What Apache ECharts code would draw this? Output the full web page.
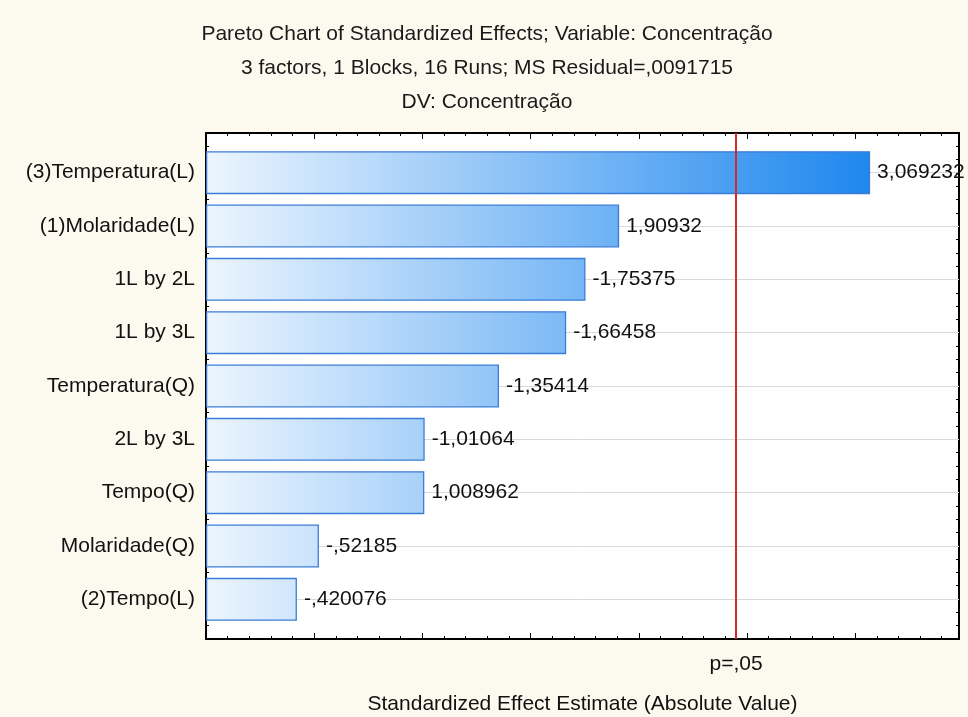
<!DOCTYPE html>
<html>
<head>
<meta charset="utf-8">
<script src="https://cdn.jsdelivr.net/npm/echarts@6/dist/echarts.min.js"></script>
<style>
  html, body { margin: 0; padding: 0; background: #fcf9ef; }
  #chart { width: 968px; height: 717px; }
</style>
</head>
<body>
<div id="chart"></div>
<script>
// Effects in Pareto order (largest absolute effect first)
const categories = ['(3)Temperatura(L)', '(1)Molaridade(L)', '1L by 2L', '1L by 3L',
  'Temperatura(Q)', '2L by 3L', 'Tempo(Q)', 'Molaridade(Q)', '(2)Tempo(L)'];
const effects = [3.069232, 1.90932, -1.75375, -1.66458, -1.35414, -1.01064, 1.008962, -0.52185, -0.420076];

// Critical t value for p = .05 and its label
const tCritical = 2.446912;
const pLabel = 'p=,05';

const titleLines = [
  'Pareto Chart of Standardized Effects; Variable: Concentração',
  '3 factors, 1 Blocks, 16 Runs; MS Residual=,0091715',
  'DV: Concentração'
];
const xTitle = 'Standardized Effect Estimate (Absolute Value)';

const FONT = '"Liberation Sans", Arial, sans-serif';
const FS = 21;
const X_MAX = 3.48;

// Statistica-style number text: decimal comma, no leading zero
function fmt(v) {
  return String(v).replace('.', ',').replace(/^(-?)0,/, '$1,');
}

const frameTick = { show: true, inside: true, length: 6, lineStyle: { color: '#000', width: 1 } };
const frameMinor = { show: true, length: 3, lineStyle: { color: '#000', width: 1 } };
const frameLine = { show: true, onZero: false, lineStyle: { color: '#000', width: 2 } };

function frameX(position, extra) {
  return Object.assign({
    type: 'value', gridIndex: 0, position: position, min: 0, max: X_MAX, interval: 0.5,
    axisLine: frameLine, axisTick: frameTick,
    minorTick: Object.assign({ splitNumber: 5 }, frameMinor),
    axisLabel: { show: false }, splitLine: { show: false }
  }, extra || {});
}
function frameY(position) {
  return {
    type: 'value', gridIndex: 0, position: position, min: 0, max: 9.5, interval: 0.25,
    axisLine: frameLine,
    axisTick: { show: true, inside: true, length: 3, lineStyle: { color: '#000', width: 1 } },
    axisLabel: { show: false }, splitLine: { show: false }
  };
}
function catY(position, showLabels) {
  return {
    type: 'category', gridIndex: 1, position: position, inverse: true, data: categories,
    boundaryGap: true,
    axisLine: { show: false, onZero: false },
    axisTick: { show: true, inside: true, alignWithLabel: true, length: 6, lineStyle: { color: '#000', width: 1 } },
    axisLabel: { show: showLabels, margin: 11, fontSize: FS, color: '#111', fontFamily: FONT },
    splitLine: { show: false }
  };
}

const chart = echarts.init(document.getElementById('chart'), null, { renderer: 'canvas' });

chart.setOption({
  backgroundColor: '#fcf9ef',
  animation: false,
  title: {
    text: titleLines.join('\n'),
    left: 482, top: 12, textAlign: 'center',
    textStyle: { fontFamily: FONT, fontSize: 21, fontWeight: 'normal', color: '#1a1a1a', lineHeight: 34 }
  },
  grid: [
    { left: 206, right: 9, top: 133, bottom: 78, outerBoundsMode: 'none', containLabel: false,
      show: true, backgroundColor: '#ffffff', borderWidth: 0 },
    { left: 206, right: 9, top: 146, bottom: 91, outerBoundsMode: 'none', containLabel: false }
  ],
  xAxis: [
    frameX('bottom', {
      name: xTitle, nameLocation: 'middle', nameGap: 55,
      nameTextStyle: { fontFamily: FONT, fontSize: FS, color: '#111' }
    }),
    frameX('top'),
    { type: 'value', gridIndex: 1, min: 0, max: X_MAX, show: false }
  ],
  yAxis: [
    frameY('left'),
    frameY('right'),
    catY('left', true),
    catY('right', false)
  ],
  series: [
    {
      type: 'bar',
      xAxisIndex: 2, yAxisIndex: 2,
      data: effects.map(v => Math.abs(v)),
      barWidth: 43,
      itemStyle: {
        color: new echarts.graphic.LinearGradient(206, 0, 870, 0, [
          { offset: 0, color: '#ecf5fe' },
          { offset: 1, color: '#1e87ee' }
        ], true),
        borderColor: '#3b7dd6',
        borderWidth: 1.3
      },
      label: {
        show: true, position: 'right', distance: 7,
        fontFamily: FONT, fontSize: FS, color: '#111',
        formatter: p => fmt(effects[p.dataIndex])
      },
      markLine: {
        z: 1,
        silent: true,
        symbol: ['none', 'none'],
        label: { show: false },
        lineStyle: { color: '#d9d9d9', width: 1, type: 'solid' },
        data: categories.map(c => ({ yAxis: c }))
      }
    },
    {
      type: 'line',
      xAxisIndex: 0, yAxisIndex: 0,
      data: [],
      markLine: {
        z: 10,
        silent: true,
        symbol: ['none', 'none'],
        lineStyle: { color: '#d42a2a', width: 2, type: 'solid' },
        label: {
          show: true, position: 'start', distance: 15, formatter: pLabel,
          fontFamily: FONT, fontSize: FS, color: '#111'
        },
        data: [{ xAxis: tCritical }]
      }
    }
  ]
});
</script>
</body>
</html>
